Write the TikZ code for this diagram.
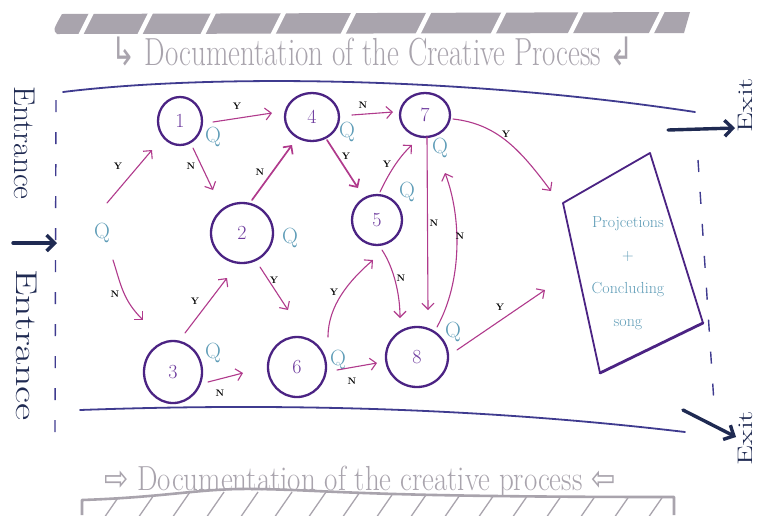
\documentclass[tikz,border=0pt]{standalone}
\usepackage{fontspec}
\usepackage{graphicx}
\newfontfamily\symf{DejaVu Sans}
\usetikzlibrary{arrows.meta,shapes.geometric,calc}
\definecolor{circ}{HTML}{4B2383}
\definecolor{num}{HTML}{6E3B9E}
\definecolor{qblue}{HTML}{5E9CB7}
\definecolor{arrc}{HTML}{B03A8C}
\definecolor{lineb}{HTML}{3F3B8F}
\definecolor{navy}{HTML}{1F2A52}
\definecolor{grayc}{HTML}{A9A4AD}
\begin{document}
\begin{tikzpicture}[x=1pt,y=-1pt,
 stnode/.style={ellipse, draw=circ, line width=2.3pt, inner sep=0pt, text=num, font=\fontsize{20}{20}\selectfont},
 qlab/.style={text=qblue, inner sep=0pt, font=\fontsize{22}{22}\selectfont},
 arr/.style={draw=arrc, line width=1.1pt, line cap=round, -{Straight Barb[length=6pt,width=12pt]}},
 arrthick/.style={arr, line width=1.7pt},
 yn/.style={inner sep=0pt, font=\fontsize{9.5}{9.5}\selectfont\bfseries},
 hand/.style={text=grayc, inner sep=0pt, font=\fontsize{29}{29}\selectfont},
 door/.style={text=navy, inner sep=0pt, font=\fontsize{30}{30}\selectfont},
 doorsm/.style={text=navy, inner sep=0pt, font=\fontsize{21}{21}\selectfont},
 bigarr/.style={draw=navy, line width=3.4pt, line cap=round, -{Straight Barb[length=8pt,width=16pt]}},
 wall/.style={draw=lineb, line width=1.8pt, line cap=round},
 gate/.style={draw=lineb, line width=1.4pt, dash pattern=on 12pt off 20pt},
]
\useasboundingbox (0,0) rectangle (757,515);
\fill[white] (0,0) rectangle (757,515);

% top hatched bar
\fill[grayc] (57,34) .. controls (53,30) .. (62,14) -- (690,12) -- (684,33) -- cycle;
\foreach \x in {78,137,200,270,340,415,490,567,648}
  \fill[white] (\x,35) -- (\x+5,35) -- (\x+17,11) -- (\x+12,11) -- cycle;
\node[hand, yscale=1.35, anchor=base] (doctop) at (373,65) {{\symf ↳} Documentation of the Creative Process {\symf ↲}};

% bottom hatched bar
\begin{scope}
\clip (82,500) .. controls (170,497) and (200,488) .. (256,489) .. controls (330,490) and (360,497) .. (674,497) -- (674,520) -- (82,520) -- cycle;
\foreach \x in {70,104,...,680}
  \draw[grayc, line width=1.3pt] (\x,518) -- (\x+18,492);
\end{scope}
\draw[grayc, line width=2.6pt, line join=round] (82,515) -- (82,500) .. controls (170,497) and (200,488) .. (256,489) .. controls (330,490) and (360,497) .. (674,497) -- (674,515);
\node[hand, yscale=1.2, anchor=base] (docbot) at (360,490) {{\symf ⇨} Documentation of the creative process {\symf ⇦}};

% walls and gates
\draw[wall] (63,92) .. controls (200,75) and (450,75) .. (695,112);
\draw[wall] (80,410) .. controls (300,402) and (500,410) .. (685,432);
\draw[gate] (56,100) -- (55,436);
\draw[gate] (698,160) -- (714,403);

% entrance / exit
\node[door, rotate=-90] (ent1) at (25,143) {\scalebox{1.05}[1]{Entrance}};
\node[door, rotate=-90] (ent2) at (27,345) {\scalebox{1.4}[1]{Entrance}};
\coordinate (ea1) at (13,243);
\coordinate (ea2) at (57,243);
\draw[bigarr] (ea1) -- (ea2);
\node[doorsm, rotate=90, anchor=base] (ex1) at (752,105) {\scalebox{1.5}[1]{Exit}};
\node[doorsm, rotate=90, anchor=base] (ex2) at (752,438) {\scalebox{1.5}[1]{Exit}};
\coordinate (xa1) at (668,130);
\coordinate (xa2) at (735,128);
\coordinate (xb1) at (683,410);
\coordinate (xb2) at (736,437);
\draw[bigarr] (xa1) -- (xa2);
\draw[bigarr] (xb1) -- (xb2);

% stations
\node[stnode, minimum width=44pt, minimum height=48pt] (n1) at (180,121) {1};
\node[stnode, minimum width=54pt, minimum height=48pt] (n4) at (312,117) {4};
\node[stnode, minimum width=50pt, minimum height=44pt] (n7) at (425,115) {7};
\node[stnode, minimum width=62pt, minimum height=60pt] (n2) at (242,233) {2};
\node[stnode, minimum width=50pt, minimum height=50pt] (n5) at (377,220) {5};
\node[stnode, minimum width=58pt, minimum height=62pt] (n3) at (173,372) {3};
\node[stnode, minimum width=58pt, minimum height=60pt] (n6) at (297,367) {6};
\node[stnode, minimum width=62pt, minimum height=60pt] (n8) at (417,357) {8};

% Q labels
\node[qlab] (qs) at (102,233) {Q};
\node[qlab] (q1) at (213,137) {Q};
\node[qlab] (q4) at (347,132) {Q};
\node[qlab] (q7) at (440,148) {Q};
\node[qlab] (q2) at (290,238) {Q};
\node[qlab] (q5) at (407,192) {Q};
\node[qlab] (q3) at (213,353) {Q};
\node[qlab] (q6) at (338,360) {Q};
\node[qlab] (q8) at (453,332) {Q};

% final box
\coordinate (bTL) at (563,203);
\coordinate (bTR) at (650,153);
\coordinate (bBR) at (703,323);
\coordinate (bBL) at (600,373);
\draw[draw=circ, line width=1.8pt, line join=round] (bBL) -- (bTL) -- (bTR) -- (bBR);
\draw[draw=circ, line width=2.8pt, line cap=round] (bBR) -- (bBL);
\node[text=qblue, align=center, font=\fontsize{16}{33}\selectfont, inner sep=0pt] (proj) at (628,273) {Projcetions\\+\\Concluding\\song};
\coordinate (bx1) at (551,191);
\coordinate (bx2) at (545,290);

% connectors
\draw[arr] ($(qs)+(5,-30)$) -- ($(n1)+(-28,29)$);
\draw[arr] ($(qs)+(11,27)$) .. controls (121,285) and (123,300) .. ($(n3)+(-30,-52)$);
\draw[arr] ($(n1)+(33,1)$) -- ($(n4)+(-40,-4)$);
\draw[arr] ($(n1)+(13,27)$) -- ($(n2)+(-29,-43)$);
\draw[arrthick] ($(n2)+(10,-33)$) -- ($(n4)+(-20,28)$);
\draw[arrthick] ($(n4)+(15,23)$) -- ($(n5)+(-19,-32)$);
\draw[arr] ($(n4)+(40,-2)$) -- ($(n7)+(-32,-3)$);
\draw[arr] ($(n5)+(3,-28)$) .. controls (388,175) and (398,158) .. ($(n7)+(-13,30)$);
\draw[arr] ($(n2)+(18,34)$) -- ($(n6)+(-9,-57)$);
\draw[arr] ($(n3)+(12,-39)$) -- ($(n2)+(-15,45)$);
\draw[arr] ($(n3)+(35,10)$) -- ($(n6)+(-54,6)$);
\draw[arr] ($(n6)+(31,-30)$) .. controls (328,305) and (350,280) .. ($(n5)+(-4,40)$);
\draw[arr] ($(n6)+(40,3)$) -- ($(n8)+(-40,6)$);
\draw[arr] ($(n5)+(5,30)$) .. controls (394,268) and (400,295) .. ($(n8)+(-17,-39)$);
\draw[arr] ($(n7)+(2,22)$) -- ($(n8)+(11,-47)$);
\draw[arr] ($(n8)+(20,-30)$) .. controls (462,282) and (462,218) .. ($(n7)+(20,58)$);
\draw[arr] ($(n7)+(28,4)$) .. controls (498,124) and (521,151) .. (bx1);
\draw[arr] ($(n8)+(40,-7)$) -- (bx2);

% Y / N labels
\node[yn] (l1) at (118,166) {Y};
\node[yn] (l2) at (115,294) {N};
\node[yn] (l3) at (237,106) {Y};
\node[yn] (l4) at (191,166) {N};
\node[yn] (l5) at (260,172) {N};
\node[yn] (l6) at (346,156) {Y};
\node[yn] (l7) at (363,105) {N};
\node[yn] (l8) at (387,164) {Y};
\node[yn] (l9) at (274,280) {Y};
\node[yn] (l10) at (195,301) {Y};
\node[yn] (l11) at (220,393) {N};
\node[yn] (l12) at (334,292) {Y};
\node[yn] (l13) at (352,381) {N};
\node[yn] (l14) at (401,278) {N};
\node[yn] (l15) at (434,223) {N};
\node[yn] (l16) at (460,236) {N};
\node[yn] (l17) at (506,134) {Y};
\node[yn] (l18) at (500,307) {Y};
\end{tikzpicture}
\end{document}
